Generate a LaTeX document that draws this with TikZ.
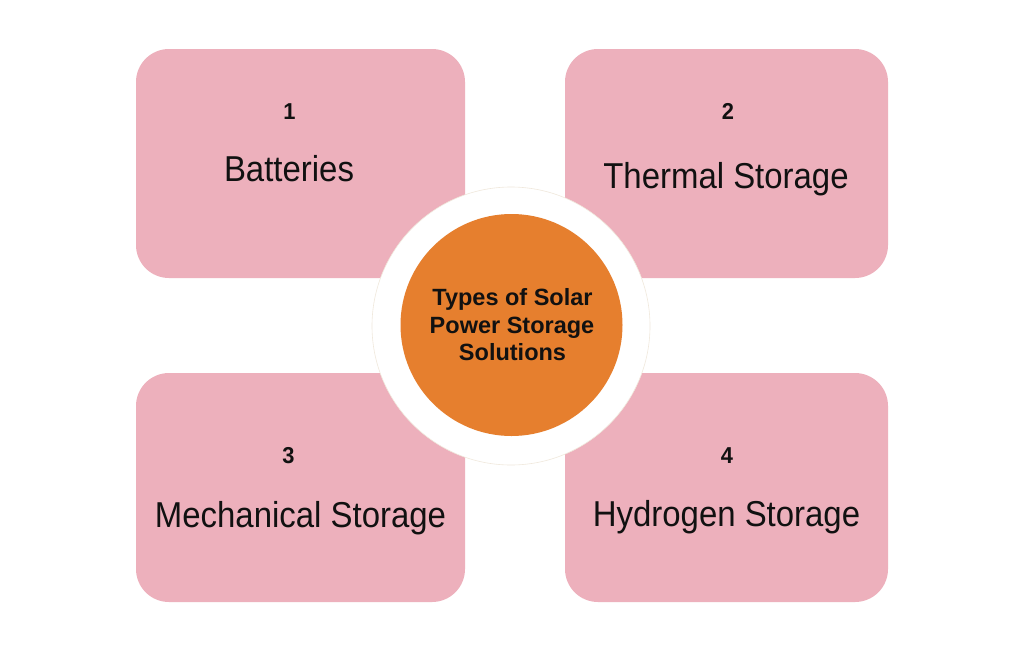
\documentclass[tikz,border=0pt]{standalone}
\usepackage{fontspec}
\newfontfamily\labelfont{Liberation Sans}[FakeStretch=0.915]
\newfontfamily\numfont{Liberation Sans}[FakeStretch=0.95]
\newfontfamily\titlefont{Liberation Sans}
\definecolor{boxpink}{RGB}{237,176,188}
\definecolor{hubor}{RGB}{230,127,46}
\definecolor{ringedge}{RGB}{240,232,220}
\definecolor{ink}{RGB}{17,17,17}
\begin{document}
\begin{tikzpicture}[x=1pt,y=-1pt,
  card/.style={fill=boxpink,draw=none,rounded corners=33pt,inner sep=0pt},
  numtxt/.style={anchor=base,inner sep=0pt,text=ink,font=\numfont\bfseries\fontsize{23}{25}\selectfont},
  lbltxt/.style={anchor=base,inner sep=0pt,text=ink,font=\labelfont\fontsize{36}{40}\selectfont},
  ttltxt/.style={anchor=base,inner sep=0pt,text=ink,font=\titlefont\bfseries\fontsize{23.5}{27}\selectfont}]
\useasboundingbox (0,0) rectangle (1024,651);
\fill[white] (0,0) rectangle (1024,651);
% cards
\node[card,minimum width=329pt,minimum height=229pt] (c1) at (300.5,163.5) {};
\node[card,minimum width=323pt,minimum height=229pt] (c2) at (726.5,163.5) {};
\node[card,minimum width=329pt,minimum height=229pt] (c3) at (300.5,487.5) {};
\node[card,minimum width=323pt,minimum height=229pt] (c4) at (726.5,487.5) {};
% hub
\node[circle,fill=white,draw=ringedge,line width=0.6pt,minimum size=278pt,inner sep=0pt] (ring) at (511,326) {};
\node[circle,fill=hubor,draw=none,minimum size=222pt,inner sep=0pt] (hub) at (511.5,325) {};
% texts
\node[numtxt] (n1) at (289.5,119) {1};
\node[lbltxt] (l1) at (289,181) {Batteries};
\node[numtxt] (n2) at (728,119) {2};
\node[lbltxt] (l2) at (726,188) {Thermal Storage};
\node[numtxt] (n3) at (288.5,463) {3};
\node[lbltxt] (l3) at (300.5,527) {Mechanical Storage};
\node[numtxt] (n4) at (727,463) {4};
\node[lbltxt] (l4) at (726.5,526) {Hydrogen Storage};
\node[ttltxt] (t1) at (512.5,305) {Types of Solar};
\node[ttltxt] (t2) at (512,333) {Power Storage};
\node[ttltxt] (t3) at (512.5,360) {Solutions};
\end{tikzpicture}
\end{document}
